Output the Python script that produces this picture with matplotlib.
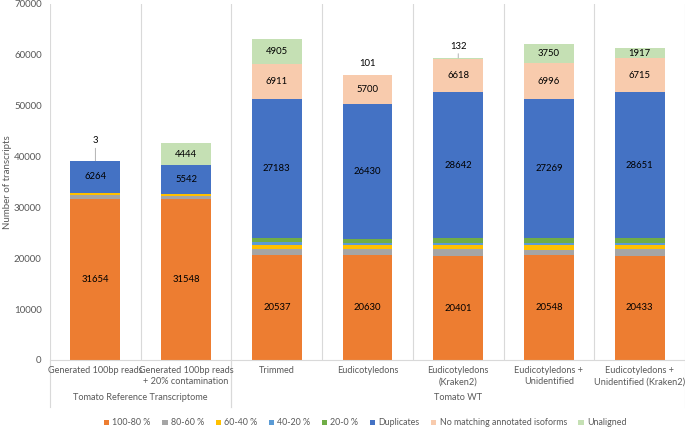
import numpy as np
import matplotlib
matplotlib.use("Agg")
import matplotlib.pyplot as plt
from matplotlib.patches import Patch
from matplotlib.lines import Line2D

plt.rcParams['font.family'] = ['Lato', 'DejaVu Sans']

categories = ["Generated 100bp reads", "Generated 100bp reads\n+ 20% contamination", "Trimmed",
              "Eudicotyledons", "Eudicotyledons\n(Kraken2)", "Eudicotyledons +\nUnidentified",
              "Eudicotyledons +\nUnidentified (Kraken2)"]
groups = [("Tomato Reference Transcriptome", 0, 1), ("Tomato WT", 2, 6)]

p100_80 = [31654, 31548, 20537, 20630, 20401, 20548, 20433]
p80_60 = [750, 720, 1300, 1180, 1350, 1150, 1310]
p60_40 = [480, 430, 750, 720, 780, 800, 850]
p40_20 = [5, 3, 550, 460, 500, 540, 460]
p20_0 = [2, 1, 930, 850, 960, 1000, 930]
duplicates = [6264, 5542, 27183, 26430, 28642, 27269, 28651]
no_match = [0, 0, 6911, 5700, 6618, 6996, 6715]
unaligned = [3, 4444, 4905, 101, 132, 3750, 1917]

series = [("100-80 %", p100_80, "#ED7D31", True),
          ("80-60 %", p80_60, "#A5A5A5", False),
          ("60-40 %", p60_40, "#FFC000", False),
          ("40-20 %", p40_20, "#5B9BD5", False),
          ("20-0 %", p20_0, "#70AD47", False),
          ("Duplicates", duplicates, "#4472C4", True),
          ("No matching annotated isoforms", no_match, "#F8CBAD", True),
          ("Unaligned", unaligned, "#C5E0B4", True)]

fig = plt.figure(figsize=(6.85, 4.29), dpi=100)
ax = fig.add_axes([0.073, 0.161, 0.927, 0.83])

x = np.arange(len(categories))
bottom = np.zeros(len(categories))
for name, vals, col, labelled in series:
    vals = np.array(vals, dtype=float)
    ax.bar(x, vals, 0.55, bottom=bottom, color=col, zorder=2)
    if labelled:
        for i, v in enumerate(vals):
            if v <= 0:
                continue
            if v > 1000:
                ax.text(x[i], bottom[i] + v / 2, f"{int(v)}", ha="center", va="center",
                        fontsize=6.8, color="black", zorder=3)
            else:
                # small values sit above the bar, some with a leader line
                top = bottom[i] + v
                leader = i in (0, 4)
                dy = 11 if i == 0 else 5
                ax.annotate(f"{int(v)}", xy=(x[i], top), xytext=(0, dy), textcoords="offset points",
                            ha="center", va="bottom", fontsize=6.8, color="black",
                            arrowprops=dict(arrowstyle="-", color="#A5A5A5", lw=0.6,
                                            shrinkA=0, shrinkB=0) if leader else None)
    bottom += vals

ax.set_xlim(-0.5, len(categories) - 0.5)
ax.set_ylim(0, 70000)
ax.set_yticks(np.arange(0, 70001, 10000))
ax.tick_params(axis="y", length=0, labelsize=7, labelcolor="#595959", pad=6)
ax.set_xticks([])
for s in ["top", "right", "left"]:
    ax.spines[s].set_visible(False)
ax.spines["bottom"].set_color("#D9D9D9")
ax.spines["bottom"].set_linewidth(0.8)

for b in np.arange(-0.5, len(categories), 1.0):
    ax.axvline(b, color="#D9D9D9", lw=0.8, zorder=1)

fig.text(8 / 685, 0.161 + 0.83 / 2, "Number of transcripts", rotation=90, ha="center",
         va="center", fontsize=7, color="#595959")

# two-level category axis
trans = ax.get_xaxis_transform()
for i, c in enumerate(categories):
    ax.text(x[i], -0.018, c, transform=trans, ha="center", va="top", fontsize=6.6,
            color="#595959", linespacing=1.3)
for name, a, b in groups:
    ax.text((a + b) / 2, -0.093, name, transform=trans, ha="center", va="top",
            fontsize=6.6, color="#595959")
    for edge in (a - 0.5, b + 0.5):
        ax.add_line(Line2D([edge, edge], [0, -0.132], transform=trans, color="#D9D9D9",
                           lw=0.8, clip_on=False))

handles = [Patch(facecolor=col, edgecolor="none") for _, _, col, _ in series]
labels = [n for n, _, _, _ in series]
fig.legend(handles, labels, loc="center", bbox_to_anchor=(0.533, 0.014), ncol=8, frameon=False,
           fontsize=6.4, handlelength=0.6, handleheight=0.6, handletextpad=0.35,
           columnspacing=1.3, labelcolor="#595959")

fig.savefig("out.png", dpi=100)
